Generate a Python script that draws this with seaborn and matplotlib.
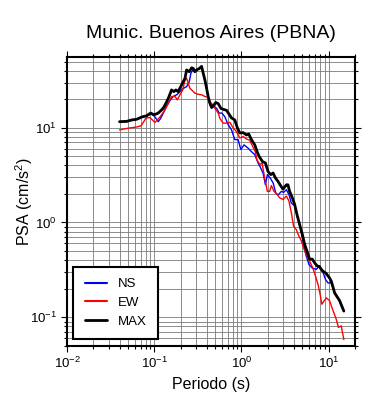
import numpy as np
import pandas as pd
import matplotlib
matplotlib.use("Agg")
import matplotlib.pyplot as plt
import matplotlib.ticker as mticker
import seaborn as sns

title = "Munic. Buenos Aires (PBNA)"
xlabel = "Periodo (s)"
ylabel = "PSA (cm/s$^2$)"

period_max = [0.040, 0.0485, 0.0553, 0.063, 0.072, 0.082, 0.091, 0.0995, 0.111, 0.122,
              0.129, 0.139, 0.145, 0.158, 0.168, 0.177, 0.188, 0.201, 0.215, 0.225,
              0.235, 0.252, 0.268, 0.280, 0.292, 0.306, 0.328, 0.349, 0.364, 0.381,
              0.398, 0.415, 0.434, 0.454, 0.473, 0.508, 0.541, 0.581, 0.628, 0.674,
              0.769, 0.838, 0.900, 0.956, 1.043, 1.14, 1.21, 1.30, 1.42, 1.51,
              1.59, 1.74, 1.88, 2.01, 2.16, 2.30, 2.45, 2.62, 2.81, 2.99,
              3.27, 3.41, 3.56, 3.83, 4.07, 4.32, 4.64, 4.98, 5.29, 5.62,
              6.04, 6.48, 6.89, 7.32, 7.85, 8.43, 9.36, 10.2, 10.7, 11.7,
              13.3, 14.9]
psa_max = [11.6, 11.7, 12.1, 12.3, 13.0, 13.4, 14.3, 13.7, 14.3, 15.5,
           16.5, 18.9, 20.5, 25.1, 24.1, 25.1, 24.1, 27.2, 30.7, 33.3,
           40.8, 39.1, 43.0, 42.3, 39.1, 40.8, 42.3, 44.5, 37.7, 31.9,
           26.2, 21.4, 18.2, 16.5, 17.0, 18.5, 18.0, 16.0, 15.6, 15.3,
           12.7, 12.1, 9.9, 8.8, 8.9, 8.4, 8.6, 7.5, 6.6, 5.6,
           5.0, 4.4, 4.25, 3.47, 3.2, 3.33, 2.95, 2.72, 2.45, 2.25,
           2.5, 2.5, 2.13, 1.82, 1.55, 1.22, 0.95, 0.75, 0.59, 0.50,
           0.41, 0.41, 0.375, 0.35, 0.34, 0.31, 0.29, 0.26, 0.24, 0.18,
           0.15, 0.116]

period_ns = [0.040, 0.0485, 0.0553, 0.063, 0.072, 0.082, 0.091, 0.0995, 0.105, 0.111,
             0.118, 0.127, 0.139, 0.152, 0.165, 0.181, 0.197, 0.215, 0.235, 0.252,
             0.263, 0.280, 0.292, 0.306, 0.328, 0.349, 0.364, 0.381, 0.398, 0.415,
             0.434, 0.454, 0.473, 0.518, 0.555, 0.596, 0.644, 0.703, 0.769, 0.838,
             0.914, 0.982, 1.07, 1.19, 1.30, 1.42, 1.55, 1.66, 1.77, 1.88,
             1.98, 2.16, 2.31, 2.47, 2.63, 2.86, 3.04, 3.27, 3.50, 3.73,
             4.07, 4.32, 4.64, 4.98, 5.22, 5.50, 5.93, 6.48, 7.2, 7.85,
             8.57, 9.19, 9.81, 10.7, 11.7, 13.3, 14.9]
psa_ns = [11.6, 11.6, 12.1, 12.3, 12.9, 13.3, 14.0, 13.4, 12.5, 11.6,
          12.5, 14.3, 17.0, 19.5, 21.4, 22.3, 24.1, 26.0, 27.2, 30.7,
          37.7, 41.5, 39.0, 40.5, 42.0, 43.5, 37.5, 31.5, 26.0, 21.0,
          17.5, 16.0, 16.8, 16.1, 14.3, 14.3, 13.1, 10.8, 9.5, 7.5,
          7.5, 5.9, 6.6, 6.1, 5.6, 5.2, 4.25, 3.77, 3.3, 2.5,
          3.2, 2.9, 2.6, 2.05, 1.95, 2.13, 2.08, 2.22, 1.97, 1.6,
          1.5, 1.2, 0.93, 0.7, 0.55, 0.45, 0.36, 0.33, 0.32, 0.35,
          0.30, 0.25, 0.23, 0.23, 0.18, 0.15, 0.116]

period_ew = [0.040, 0.0502, 0.0631, 0.0707, 0.0806, 0.0895, 0.102, 0.1165, 0.133, 0.145,
             0.158, 0.173, 0.184, 0.197, 0.212, 0.225, 0.235, 0.245, 0.256, 0.268,
             0.292, 0.319, 0.349, 0.381, 0.415, 0.434, 0.466, 0.495, 0.541, 0.565,
             0.616, 0.674, 0.735, 0.802, 0.877, 0.956, 1.043, 1.14, 1.24, 1.36,
             1.44, 1.50, 1.62, 1.72, 1.85, 1.98, 2.10, 2.20, 2.36, 2.58,
             2.74, 2.99, 3.27, 3.50, 3.73, 3.96, 4.25, 4.55, 4.85, 5.15,
             5.53, 6.04, 6.58, 7.07, 7.55, 7.96, 8.34, 9.36, 10.2, 11.1,
             12.2, 12.9, 13.9, 14.9]
psa_ew = [9.5, 9.9, 10.2, 10.5, 12.7, 12.8, 11.4, 13.0, 15.5, 18.2,
          21.4, 21.4, 19.7, 22.3, 25.1, 31.9, 33.3, 29.5, 26.2, 25.1,
          23.2, 22.6, 22.3, 21.4, 20.9, 18.9, 17.5, 16.1, 14.3, 12.6,
          11.2, 11.2, 11.4, 10.0, 9.1, 7.8, 8.1, 7.6, 7.4, 6.2,
          5.6, 4.6, 4.1, 4.25, 2.9, 2.13, 2.13, 2.45, 2.13, 1.97,
          1.82, 1.75, 1.9, 1.68, 1.26, 0.91, 0.84, 0.72, 0.64, 0.54,
          0.46, 0.39, 0.33, 0.27, 0.22, 0.175, 0.137, 0.16, 0.15, 0.12,
          0.095, 0.078, 0.081, 0.058]

series_names = ["NS", "EW", "MAX"]
series_colors = ["#0000ff", "#ff0000", "#000000"]
series_widths = [1.0, 1.0, 2.0]

sns.set_style("ticks")
plt.rcParams["font.family"] = ["Liberation Sans", "DejaVu Sans"]
plt.rcParams["mathtext.fontset"] = "custom"
plt.rcParams["mathtext.rm"] = "Liberation Sans"
plt.rcParams["mathtext.it"] = "Liberation Sans:italic"
plt.rcParams["mathtext.bf"] = "Liberation Sans:bold"
plt.rcParams["text.color"] = "black"
plt.rcParams["axes.labelcolor"] = "black"
plt.rcParams["xtick.color"] = "black"
plt.rcParams["ytick.color"] = "black"

fig = plt.figure(figsize=(3.9, 4.0), dpi=100)
ax = fig.add_axes([67 / 390, 1 - 345.7 / 400, (355 - 67) / 390, (345.7 - 57.3) / 400])

data = [(period_ns, psa_ns), (period_ew, psa_ew), (period_max, psa_max)]
for (p, v), name, col, lw in zip(data, series_names, series_colors, series_widths):
    df = pd.DataFrame({"period": p, "psa": v})
    sns.lineplot(data=df, x="period", y="psa", ax=ax, color=col, lw=lw,
                 label=name, estimator=None, sort=False, zorder=3)

ax.set_xscale("log")
ax.set_yscale("log")
ax.set_xlim(0.01, 20)
ax.set_ylim(0.05, 55.5)

ax.xaxis.set_major_locator(mticker.LogLocator(base=10, numticks=10))
ax.xaxis.set_minor_locator(mticker.LogLocator(base=10, subs=np.arange(2, 10), numticks=20))
ax.yaxis.set_major_locator(mticker.LogLocator(base=10, numticks=10))
ax.yaxis.set_minor_locator(mticker.LogLocator(base=10, subs=np.arange(2, 10), numticks=20))
ax.xaxis.set_minor_formatter(mticker.NullFormatter())
ax.yaxis.set_minor_formatter(mticker.NullFormatter())

ax.grid(which="both", color="#7a7a7a", lw=0.6, zorder=0)
ax.set_axisbelow(True)

ax.tick_params(which="both", direction="out", top=True, right=True, colors="black",
               labelsize=9.5, width=0.8)
ax.tick_params(which="major", length=4.5, pad=3)
ax.tick_params(which="minor", length=2.3)
for s in ax.spines.values():
    s.set_linewidth(1.5)
    s.set_color("black")

ax.set_title(title, fontsize=14, pad=14, color="black")
ax.set_xlabel(xlabel, fontsize=11.5, labelpad=4)
ax.set_ylabel(ylabel, fontsize=11.5, labelpad=-4)

leg = ax.legend(loc="lower left", bbox_to_anchor=(0.022, 0.023), borderaxespad=0,
                fontsize=9.5, frameon=True, fancybox=False, handlelength=1.7,
                handletextpad=0.8, labelspacing=0.5, borderpad=0.85)
leg.get_frame().set_edgecolor("black")
leg.get_frame().set_linewidth(1.5)
leg.get_frame().set_alpha(1)
for h, lw in zip(leg.get_lines(), [1.5, 1.5, 2.0]):
    h.set_linewidth(lw)
for t in leg.get_texts():
    t.set_color("black")
leg.set_zorder(5)

fig.savefig("out.png", dpi=100)
